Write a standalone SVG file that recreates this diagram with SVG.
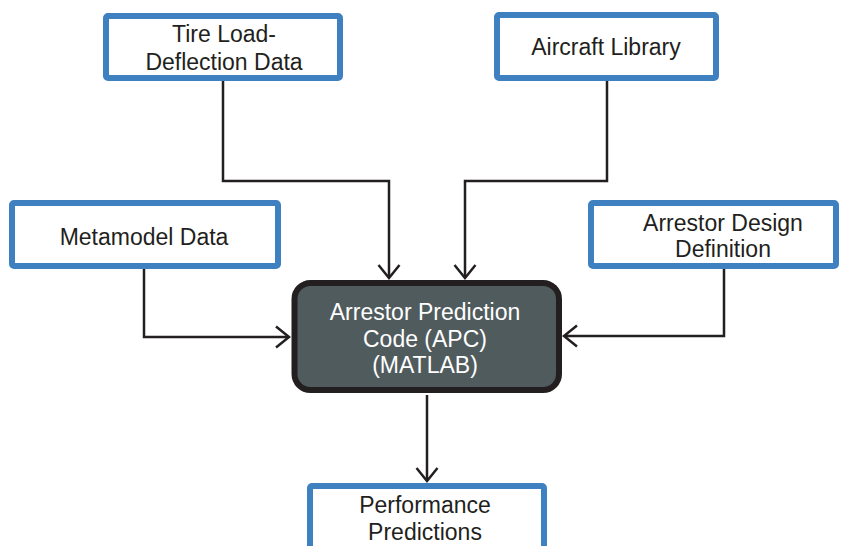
<svg xmlns="http://www.w3.org/2000/svg" width="846" height="546" viewBox="0 0 846 546">
<defs>
<style>
.box{fill:#ffffff;stroke:#3f80c0;stroke-width:6;}
.core{fill:#505b5e;stroke:#231f20;stroke-width:6;}
.t{font-family:"Liberation Sans",Arial,sans-serif;font-size:23px;fill:#231f20;text-anchor:middle;}
.w{fill:#ffffff;}
.c{fill:none;stroke:#231f20;stroke-width:2.5;}
</style>
<marker id="ah" viewBox="0 0 16 24" refX="14" refY="12" markerWidth="16" markerHeight="24" markerUnits="userSpaceOnUse" orient="auto">
<path d="M1,1.5 L14,12 L1,22.5" fill="none" stroke="#231f20" stroke-width="2.5"/>
</marker>
</defs>
<rect width="846" height="546" fill="#ffffff"/>
<g id="connectors">
<polyline class="c" points="223,80 223,181 389,181 389,278" marker-end="url(#ah)"/>
<polyline class="c" points="607,80 607,181 465,181 465,278" marker-end="url(#ah)"/>
<polyline class="c" points="144,268 144,337 289,337" marker-end="url(#ah)"/>
<polyline class="c" points="724,268 724,336 564,336" marker-end="url(#ah)"/>
<polyline class="c" points="427,395 427,481" marker-end="url(#ah)"/>
</g>
<g id="tire">
<rect class="box" x="106" y="16" width="234" height="62" rx="2"/>
<text class="t" x="224" y="42">Tire Load-</text>
<text class="t" x="224" y="70">Deflection Data</text>
</g>
<g id="aircraft">
<rect class="box" x="497" y="15" width="219" height="63" rx="2"/>
<text class="t" x="606" y="55">Aircraft Library</text>
</g>
<g id="metamodel">
<rect class="box" x="12" y="203" width="266" height="63" rx="2"/>
<text class="t" x="144" y="245">Metamodel Data</text>
</g>
<g id="arrestor">
<rect class="box" x="591" y="203" width="245" height="63" rx="2"/>
<text class="t" x="723" y="231">Arrestor Design</text>
<text class="t" x="723" y="257">Definition</text>
</g>
<g id="apc">
<rect class="core" x="294.5" y="283" width="264.5" height="107" rx="16"/>
<text class="t w" x="425" y="320">Arrestor Prediction</text>
<text class="t w" x="425" y="347">Code (APC)</text>
<text class="t w" x="425" y="373">(MATLAB)</text>
</g>
<g id="performance">
<rect class="box" x="310" y="486" width="234" height="70" rx="2"/>
<text class="t" x="425" y="513">Performance</text>
<text class="t" x="425" y="540">Predictions</text>
</g>
</svg>
